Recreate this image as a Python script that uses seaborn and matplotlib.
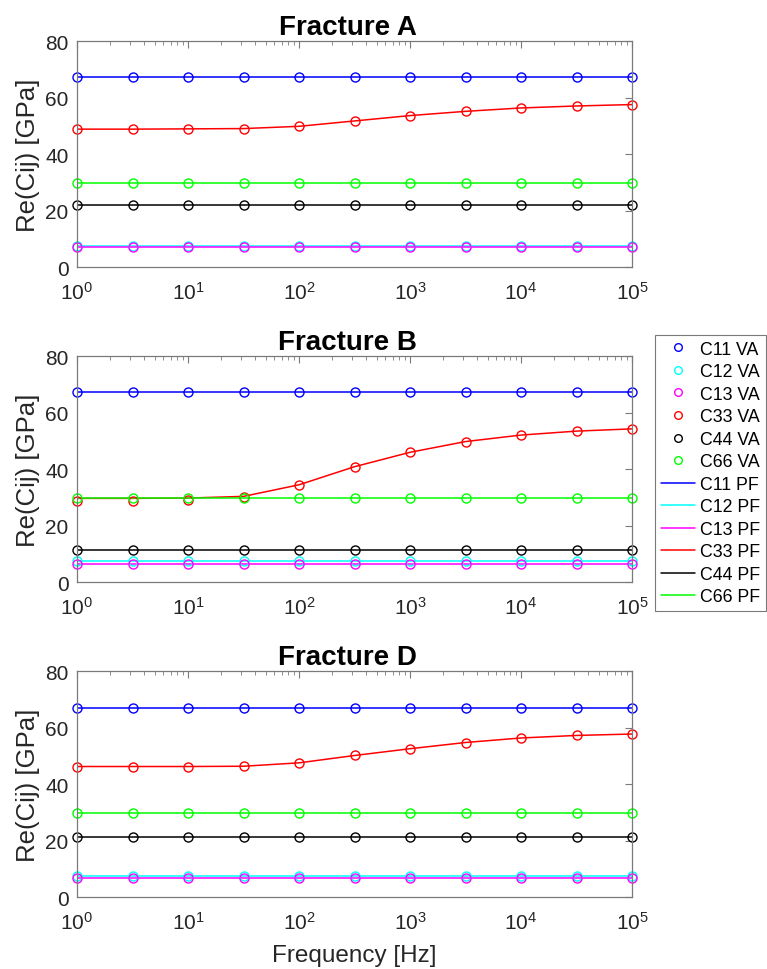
import numpy as np
import pandas as pd
import matplotlib
matplotlib.use("Agg")
import matplotlib.pyplot as plt
from matplotlib.ticker import LogLocator, NullFormatter, FixedLocator
from matplotlib.lines import Line2D
import seaborn as sns

# Frequencies sampled every half decade
freq = [1, 3.162, 10, 31.62, 100, 316.2, 1000, 3162, 10000, 31623, 100000]

components = ["C11", "C12", "C13", "C33", "C44", "C66"]
colors = ["#0000ff", "#00ffff", "#ff00ff", "#ff0000", "#000000", "#00ff00"]

# Fracture A
a_c11 = [67.3] * 11
a_c12 = [7.5] * 11
a_c13 = [7.0] * 11
a_c33 = [48.8, 48.8, 48.9, 49.0, 49.8, 51.7, 53.6, 55.1, 56.3, 57.0, 57.5]
a_c44 = [21.9] * 11
a_c66 = [29.8] * 11

# Fracture B
b_c11 = [67.3] * 11
b_c12 = [7.6] * 11
b_c13 = [6.6] * 11
b_c33_va = [28.9, 28.9, 29.1, 30.1, 34.4, 40.9, 46.0, 49.8, 52.1, 53.5, 54.3]
b_c33_pf = [29.7, 29.7, 29.8, 30.4, 34.5, 40.9, 46.0, 49.8, 52.1, 53.5, 54.3]
b_c44 = [11.4] * 11
b_c66 = [29.7] * 11

# Fracture D
d_c11 = [67.1] * 11
d_c12 = [7.4] * 11
d_c13 = [6.8] * 11
d_c33 = [46.3, 46.3, 46.3, 46.4, 47.6, 50.2, 52.6, 54.8, 56.4, 57.3, 57.8]
d_c44 = [21.5] * 11
d_c66 = [29.8] * 11

titles = ["Fracture A", "Fracture B", "Fracture D"]
va_sets = [
    [a_c11, a_c12, a_c13, a_c33, a_c44, a_c66],
    [b_c11, b_c12, b_c13, b_c33_va, b_c44, b_c66],
    [d_c11, d_c12, d_c13, d_c33, d_c44, d_c66],
]
pf_sets = [
    [a_c11, a_c12, a_c13, a_c33, a_c44, a_c66],
    [b_c11, b_c12, b_c13, b_c33_pf, b_c44, b_c66],
    [d_c11, d_c12, d_c13, d_c33, d_c44, d_c66],
]

sns.set_theme(style="white")
plt.rcParams["font.family"] = ["Liberation Sans", "DejaVu Sans"]
plt.rcParams["mathtext.fontset"] = "custom"
plt.rcParams["mathtext.rm"] = "Liberation Sans"
plt.rcParams["mathtext.it"] = "Liberation Sans:italic"

text_c = "#262626"
frame_c = "#7a7a7a"

fig = plt.figure(figsize=(7.67, 9.70), dpi=100)
positions = [
    [0.1004, 0.7237, 0.7236, 0.2330],
    [0.1004, 0.3987, 0.7236, 0.2330],
    [0.1004, 0.0739, 0.7236, 0.2330],
]

axes = []
for i, (pos, title) in enumerate(zip(positions, titles)):
    ax = fig.add_axes(pos)
    axes.append(ax)
    # PF curves
    for comp, c, vals in zip(components, colors, pf_sets[i]):
        sns.lineplot(x=freq, y=vals, color=c, linewidth=1.1, ax=ax,
                     estimator=None, sort=False, legend=False)
    # VA samples as open circles
    for comp, c, vals in zip(components, colors, va_sets[i]):
        sns.lineplot(x=freq, y=vals, color=c, linestyle="none", marker="o",
                     markersize=6.5, markerfacecolor="none", markeredgecolor=c,
                     markeredgewidth=1.0, ax=ax, estimator=None, sort=False,
                     legend=False, clip_on=False)
    ax.set_xscale("log")
    ax.set_xlim(1, 1e5)
    ax.set_ylim(0, 80)
    ax.yaxis.set_major_locator(FixedLocator([0, 20, 40, 60, 80]))
    ax.xaxis.set_major_locator(LogLocator(base=10, numticks=10))
    ax.xaxis.set_minor_locator(LogLocator(base=10, subs=np.arange(2, 10), numticks=20))
    ax.xaxis.set_minor_formatter(NullFormatter())
    ax.tick_params(which="both", direction="in", top=True, right=True,
                   color=frame_c, labelcolor=text_c, labelsize=15)
    ax.tick_params(which="major", length=5, width=0.8)
    ax.tick_params(which="minor", length=3, width=0.6)
    ax.tick_params(axis="y", pad=6)
    ax.tick_params(axis="x", pad=10)
    for s in ax.spines.values():
        s.set_color(frame_c)
        s.set_linewidth(0.9)
    ax.set_title(title, fontsize=20, fontweight="bold", color="black",
                 pad=5, x=0.488)
    ax.set_ylabel("Re(Cij) [GPa]", fontsize=18.5, color=text_c, labelpad=4)
    ax.set_xlabel("")

axes[-1].set_xlabel("Frequency [Hz]", fontsize=17.5, color=text_c, labelpad=8)

# Legend: VA as open markers, PF as lines
handles = []
labels = []
for comp, c in zip(components, colors):
    handles.append(Line2D([], [], linestyle="none", marker="o", markersize=5.5,
                          markerfacecolor="none", markeredgecolor=c,
                          markeredgewidth=1.0))
    labels.append(f"{comp} VA")
for comp, c in zip(components, colors):
    handles.append(Line2D([], [], color=c, linewidth=1.1))
    labels.append(f"{comp} PF")

leg = fig.legend(handles, labels, loc="upper left",
                 bbox_to_anchor=(0.854, 0.6536), fontsize=12.8,
                 frameon=True, fancybox=False, framealpha=1,
                 edgecolor=frame_c, labelspacing=0.31, handlelength=1.95,
                 handletextpad=0.28, borderpad=0.32, borderaxespad=0)
leg.get_frame().set_linewidth(0.8)
for t in leg.get_texts():
    t.set_color("black")

fig.savefig("out.png", dpi=100, facecolor="white")
